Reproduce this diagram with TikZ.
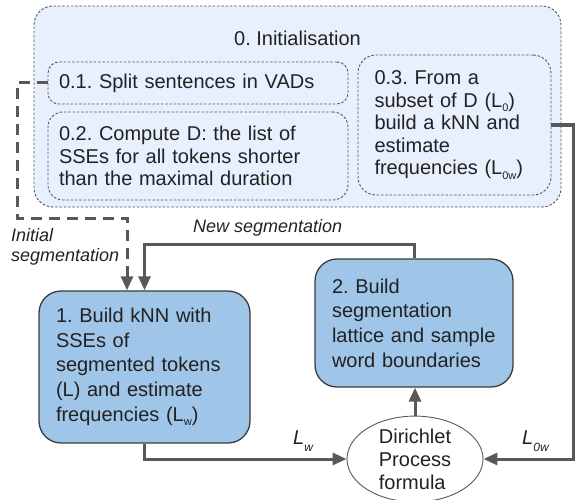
\documentclass[tikz,border=0pt]{standalone}
\usepackage{fontspec}
\setmainfont{Liberation Sans}
\usetikzlibrary{arrows.meta,shapes.geometric,calc}
\definecolor{initfill}{HTML}{E8F0FE}
\definecolor{stepfill}{HTML}{9FC5E8}
\definecolor{stepline}{HTML}{3C3C3C}
\definecolor{connc}{HTML}{595959}
\definecolor{dashc}{HTML}{555555}
\definecolor{txt}{HTML}{222222}
\newcommand\boxsub[1]{\raisebox{-4.5pt}{\fontsize{11}{11}\selectfont #1}}
\newcommand\lblsub[1]{\raisebox{-7pt}{\fontsize{12}{12}\selectfont #1}}
\tikzset{
  outerbox/.style={draw=dashc, fill=initfill, line width=0.9pt, dash pattern=on 2.5pt off 1.8pt, rounded corners=19pt, inner sep=0pt},
  innerbox/.style={draw=dashc, line width=0.9pt, dash pattern=on 2.5pt off 1.8pt, inner sep=0pt, align=left, text=txt, font=\fontsize{20}{22.5}\selectfont},
  stepbox/.style={draw=stepline, fill=stepfill, line width=1.3pt, rounded corners=22pt, inner sep=0pt, align=left, text=txt, font=\fontsize{20}{24.6}\selectfont},
  conn/.style={draw=connc, line width=3pt, -{Triangle[length=14pt,width=12pt]}},
  dconn/.style={conn, dash pattern=on 11pt off 7pt},
  lbl/.style={text=txt, font=\fontsize{18}{20}\selectfont\itshape, inner sep=0pt, align=left},
  llbl/.style={text=txt, font=\fontsize{20}{20}\selectfont\itshape, inner sep=0pt}
}
\frenchspacing
\begin{document}
\begin{tikzpicture}[x=1pt,y=-1pt]
\useasboundingbox (0,0) rectangle (575,500);
% outer initialisation box
\node[outerbox, minimum width=527pt, minimum height=201pt] (b0) at (297.5,106.5) {};
\node[text=txt, font=\fontsize{20}{22}\selectfont, inner sep=0pt] (t0) at (297.5,38) {0. Initialisation};
\node[innerbox, rounded corners=11pt, minimum width=300pt, minimum height=42pt, text width=278pt] (b01) at (198,83) {0.1. Split sentences in VADs};
\node[innerbox, rounded corners=15pt, minimum width=300pt, minimum height=88pt, text width=278pt] (b02) at (198,156) {0.2. Compute D: the list of\\SSEs for all tokens shorter\\than the maximal duration};
\node[innerbox, rounded corners=18pt, minimum width=193pt, minimum height=140pt, text width=160pt] (b03) at (454.5,125) {0.3. From a\\subset of D (L\boxsub{0})\\build a kNN and\\estimate\\frequencies (L\boxsub{0w})};
% step boxes
\node[stepbox, minimum width=211pt, minimum height=152pt, text width=177pt] (b1) at (144.5,367) {1. Build kNN with\\SSEs of\\segmented tokens\\(L) and estimate\\frequencies (L\boxsub{w})};
\node[stepbox, minimum width=198pt, minimum height=128pt, text width=164pt] (b2) at (414,323) {2. Build\\segmentation\\lattice and sample\\word boundaries};
\node[ellipse, draw=connc, fill=white, line width=0.9pt, minimum width=136pt, minimum height=82pt, inner sep=0pt, align=left, text=txt, font=\fontsize{20}{23}\selectfont] (dp) at (415,459) {Dirichlet\\Process\\formula};
% connectors
\coordinate (ia) at (17,83);
\coordinate (ib) at (17,218);
\draw[dconn] (b01.west) -- (ia) -- (ib) -| ($(b1.north)+(-17.5,0)$);
\draw[conn] (b2.north) -- ++(0,-14) -| (b1.north);
\draw[conn] (b1.south) |- (dp.west);
\draw[conn] (b03.east) -- ++(22,0) |- (dp.east);
\draw[conn] (dp.north) -- (dp.north |- b2.south);
% labels
\node[lbl, anchor=west] (lnew) at (193,228) {New segmentation};
\node[lbl, anchor=west] (linit) at (11,247) {Initial\\segmentation};
\node[llbl, anchor=west] (llw) at (293,441) {L\lblsub{w}};
\node[llbl, anchor=west] (ll0w) at (522,441) {L\lblsub{0w}};
\end{tikzpicture}
\end{document}
